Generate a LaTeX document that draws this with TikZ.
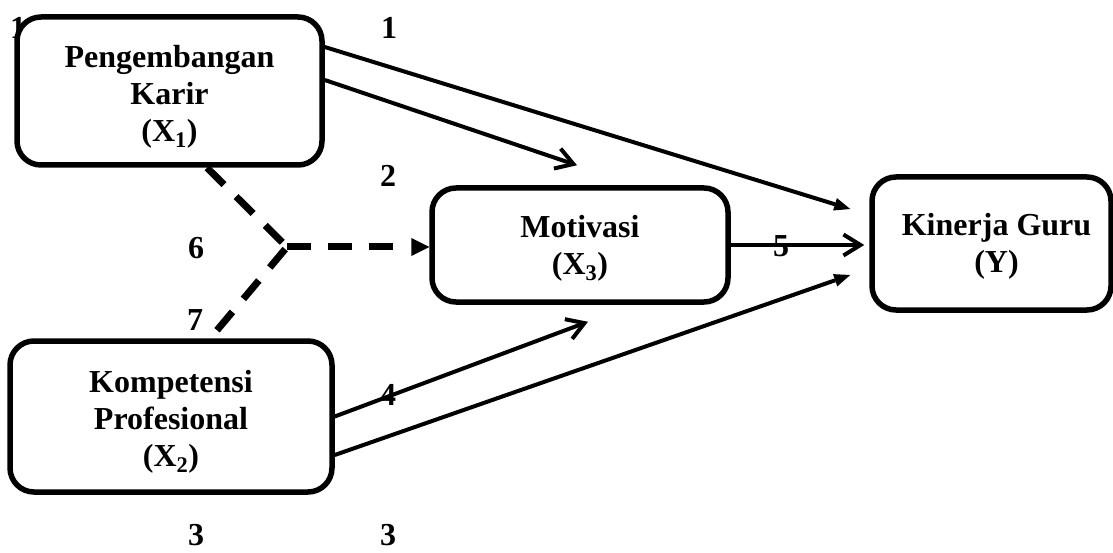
\documentclass[tikz,border=0pt]{standalone}
\usepackage{fontspec}
\setmainfont{Liberation Serif}
\usetikzlibrary{arrows.meta,calc}
\begin{document}
\begin{tikzpicture}[x=1pt,y=-1pt,
  box/.style={draw, line width=5.5pt, rounded corners=24pt, fill=white, inner sep=0pt},
  txt/.style={align=center, font=\bfseries\fontsize{32}{37}\selectfont, inner sep=0pt},
  lbl/.style={font=\bfseries\fontsize{32}{37}\selectfont, inner sep=0pt},
  conn/.style={line width=4pt},
  dsh/.style={line width=7pt, dash pattern=on 24pt off 17pt},
  open/.style={-{Straight Barb[length=17pt,width=21pt,line width=4pt]}},
  filled/.style={-{Triangle[length=16pt,width=13pt,line width=0pt]}}
]
\useasboundingbox (0,0) rectangle (1113,553);
% partly hidden label behind the first box
\node[lbl] (l0) at (18,28) {1};
% boxes
\node[box, minimum width=305pt, minimum height=148pt] (x1) at (169.5,91) {};
\node[txt] (x1t) at ([yshift=-6pt]x1.center) {Pengembangan\\Karir\\(X\textsubscript{1})};
\node[box, minimum width=322pt, minimum height=151pt] (x2) at (171,416.5) {};
\node[txt] (x2t) at ([yshift=-5pt]x2.center) {Kompetensi\\Profesional\\(X\textsubscript{2})};
\node[box, minimum width=296pt, minimum height=114pt] (x3) at (580,245) {};
\node[txt] (x3t) at ([yshift=-3pt]x3.center) {Motivasi\\(X\textsubscript{3})};
\node[box, minimum width=239pt, minimum height=133pt] (y) at (991.5,243.5) {};
\node[txt] (yt) at ([xshift=5pt,yshift=-3pt]y.center) {Kinerja Guru\\(Y)};
% solid connectors
\draw[conn, filled] ([yshift=44pt]x1.east) -- ([xshift=-19pt,yshift=34.5pt]y.west);
\draw[conn, open] ([yshift=11pt]x1.east) -- ([xshift=-3pt,yshift=20pt]x3.north);
\draw[conn, open] (x3.east) -- ([xshift=-5pt]x3.east -| y.west);
\draw[conn, open] (x2.east) -- ([xshift=8pt,yshift=-17pt]x3.south);
\draw[conn, filled] ([yshift=-38.5pt]x2.east) -- ([xshift=-19pt,yshift=-31.5pt]y.west);
% dashed connectors
\coordinate (j) at (287,247);
\coordinate (jt) at (j -| x3.west);
\draw[dsh] ([xshift=37.5pt]x1.south) -- (j);
\draw[dsh] ([xshift=46pt,yshift=8pt]x2.north) -- (j);
\draw[dsh] (j) -- ([xshift=-32pt]jt);
\fill (jt) -- ++(-18,-9) -- ++(0,18) -- cycle;
% labels
\node[lbl] (l1) at (389,28) {1};
\node[lbl] (l2) at (388,176) {2};
\node[lbl] (l6) at (196,248) {6};
\node[lbl] (l7) at (195,320) {7};
\node[lbl] (l4) at (388,395) {4};
\node[lbl] (l5) at (781,246) {5};
\node[lbl] (l3a) at (196,535) {3};
\node[lbl] (l3b) at (388,535) {3};
\end{tikzpicture}
\end{document}
